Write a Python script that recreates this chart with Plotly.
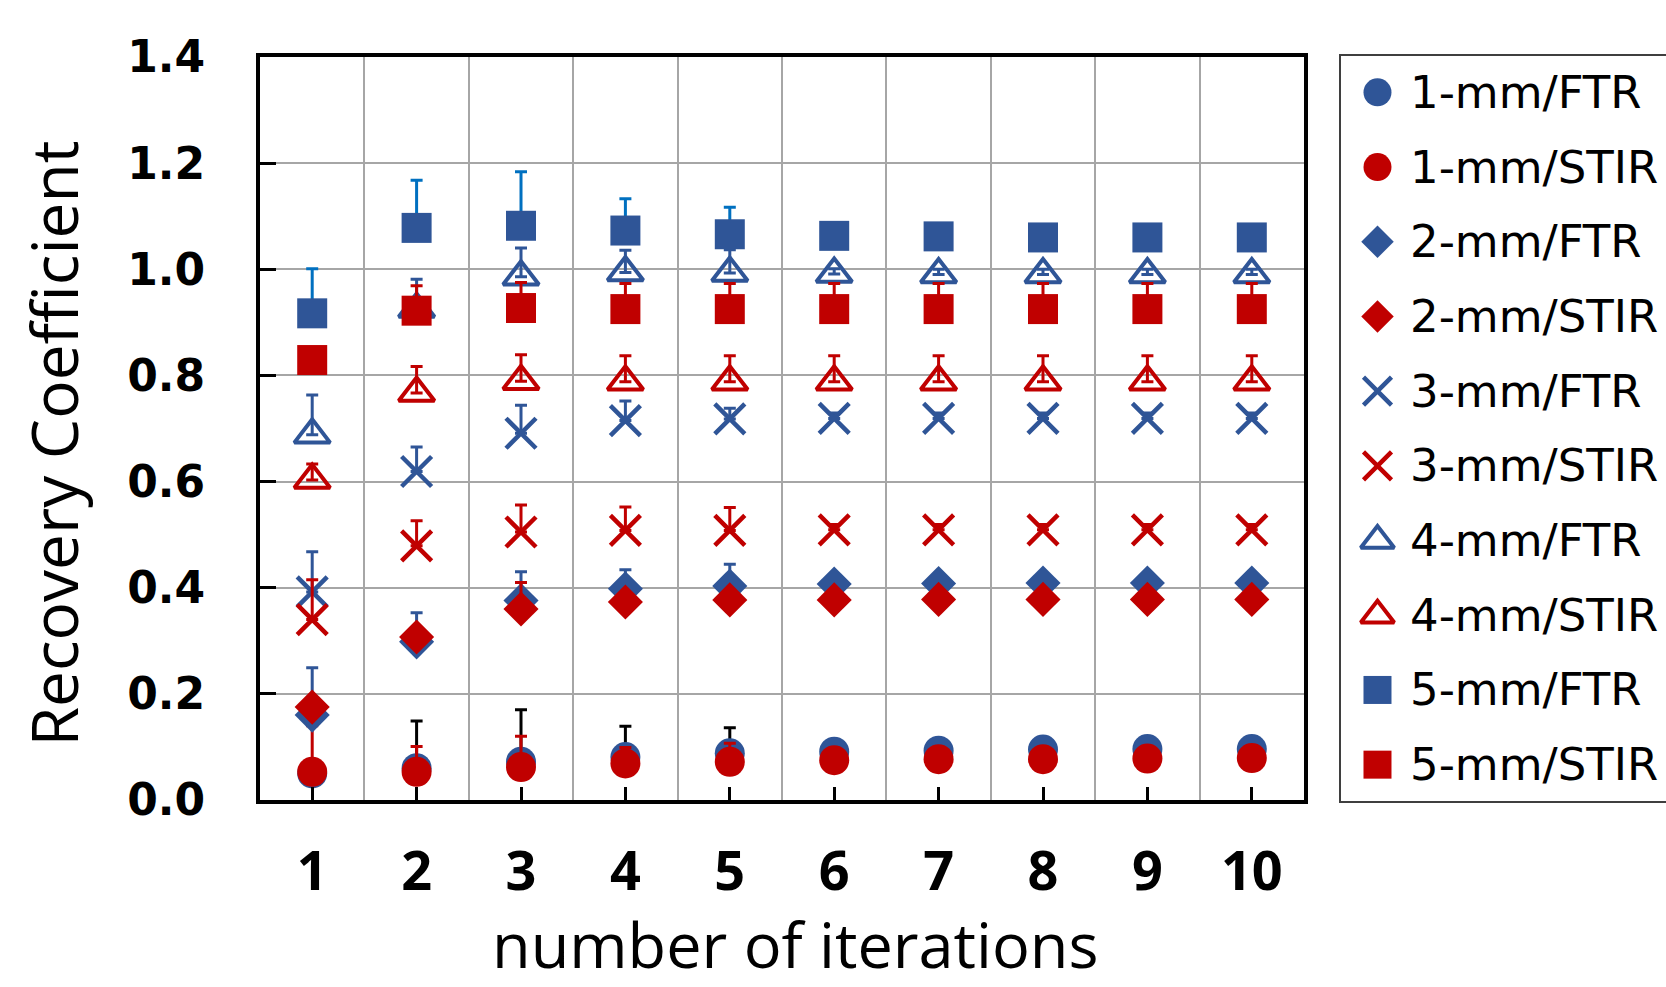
import plotly.graph_objects as go

# ---- data -------------------------------------------------------------
iterations = [1, 2, 3, 4, 5, 6, 7, 8, 9, 10]
tick_labels = ["1", "2", "3", "4", "5", "6", "7", "8", "9", "10"]

series_names = [
    "1-mm/FTR", "1-mm/STIR", "2-mm/FTR", "2-mm/STIR", "3-mm/FTR",
    "3-mm/STIR", "4-mm/FTR", "4-mm/STIR", "5-mm/FTR", "5-mm/STIR",
]

rc_1mm_ftr = [0.050, 0.060, 0.072, 0.081, 0.088, 0.091, 0.093, 0.095, 0.096, 0.096]
err_1mm_ftr = [0.010, 0.089, 0.098, 0.058, 0.048, 0.010, 0.010, 0.010, 0.010, 0.010]

rc_1mm_stir = [0.053, 0.053, 0.062, 0.069, 0.072, 0.075, 0.077, 0.077, 0.078, 0.079]
err_1mm_stir = [0.087, 0.048, 0.058, 0.030, 0.035, 0.010, 0.010, 0.010, 0.010, 0.010]

rc_2mm_ftr = [0.160, 0.298, 0.376, 0.398, 0.403, 0.407, 0.408, 0.409, 0.409, 0.409]
err_2mm_ftr = [0.089, 0.055, 0.054, 0.036, 0.041, 0.010, 0.010, 0.010, 0.010, 0.010]

rc_2mm_stir = [0.175, 0.307, 0.360, 0.373, 0.377, 0.377, 0.378, 0.378, 0.378, 0.378]
err_2mm_stir = [0.010, 0.010, 0.050, 0.010, 0.010, 0.010, 0.010, 0.010, 0.010, 0.010]

rc_3mm_ftr = [0.392, 0.619, 0.691, 0.715, 0.718, 0.719, 0.719, 0.719, 0.719, 0.719]
err_3mm_ftr = [0.076, 0.046, 0.053, 0.037, 0.020, 0.010, 0.010, 0.010, 0.010, 0.010]

rc_3mm_stir = [0.340, 0.479, 0.505, 0.508, 0.508, 0.509, 0.509, 0.509, 0.509, 0.509]
err_3mm_stir = [0.075, 0.047, 0.051, 0.044, 0.043, 0.010, 0.010, 0.010, 0.010, 0.010]

rc_4mm_ftr = [0.688, 0.925, 0.986, 0.994, 0.993, 0.991, 0.990, 0.990, 0.990, 0.990]
err_4mm_ftr = [0.075, 0.056, 0.054, 0.042, 0.044, 0.010, 0.010, 0.010, 0.010, 0.010]

rc_4mm_stir = [0.603, 0.767, 0.789, 0.788, 0.788, 0.788, 0.788, 0.788, 0.788, 0.788]
err_4mm_stir = [0.030, 0.050, 0.050, 0.049, 0.049, 0.049, 0.049, 0.049, 0.049, 0.049]

rc_5mm_ftr = [0.917, 1.078, 1.082, 1.073, 1.066, 1.063, 1.062, 1.060, 1.060, 1.060]
err_5mm_ftr = [0.084, 0.090, 0.102, 0.060, 0.051, 0.010, 0.010, 0.010, 0.010, 0.010]

rc_5mm_stir = [0.829, 0.922, 0.927, 0.925, 0.925, 0.925, 0.925, 0.925, 0.925, 0.925]
err_5mm_stir = [0.010, 0.047, 0.048, 0.048, 0.048, 0.048, 0.048, 0.048, 0.048, 0.048]

values = [rc_1mm_ftr, rc_1mm_stir, rc_2mm_ftr, rc_2mm_stir, rc_3mm_ftr,
          rc_3mm_stir, rc_4mm_ftr, rc_4mm_stir, rc_5mm_ftr, rc_5mm_stir]
errors = [err_1mm_ftr, err_1mm_stir, err_2mm_ftr, err_2mm_stir, err_3mm_ftr,
          err_3mm_stir, err_4mm_ftr, err_4mm_stir, err_5mm_ftr, err_5mm_stir]

# ---- styling ----------------------------------------------------------
BLUE = "#2F5597"
RED = "#C00000"
W, H = 1666, 987

# marker style per phantom size (symbol, size, outline width)
size_styles = {
    "1": ("circle", 30, 0),
    "2": ("diamond", 27, 0),
    "3": ("x-thin-open", 30, 4.5),
    "4": ("triangle-up-open", 31, 4),
    "5": ("square", 30, 0),
}
error_colors = {
    "1-mm/FTR": "#000000", "2-mm/FTR": BLUE, "3-mm/FTR": BLUE,
    "4-mm/FTR": BLUE, "5-mm/FTR": "#0070C0",
}

# plot area and legend box in pixels
PX_L, PX_R, PX_T, PX_B = 260, 1304, 57, 800
LEG_L, LEG_T, LEG_B = 1340, 55, 802


def marker_for(name, shrink=0):
    symbol, size, lw = size_styles[name[0]]
    color = BLUE if name.endswith("FTR") else RED
    return dict(symbol=symbol, size=size - shrink, color=color,
                line=dict(width=lw, color=color))


fig = go.Figure()

for name, vals, errs in zip(series_names, values, errors):
    err_color = error_colors.get(name, RED)
    fig.add_trace(go.Scatter(
        x=iterations, y=vals, mode="markers", name=name,
        marker=marker_for(name),
        error_y=dict(type="data", symmetric=False, array=errs,
                     arrayminus=[0] * len(errs), color=err_color,
                     thickness=3, width=6),
        showlegend=False, xaxis="x", yaxis="y",
    ))

# legend keys drawn on their own small axis pair
LEG_MARK_X = 0.115
LEG_TEXT_X = 0.21
for row, name in enumerate(series_names):
    fig.add_trace(go.Scatter(
        x=[LEG_MARK_X], y=[row], mode="markers",
        marker=marker_for(name, shrink=2),
        showlegend=False, hoverinfo="skip", xaxis="x2", yaxis="y2",
    ))
    fig.add_annotation(
        x=LEG_TEXT_X, y=row, xref="x2", yref="y2", text=name,
        showarrow=False, xanchor="left", yanchor="middle",
        font=dict(family="DejaVu Sans", size=45, color="#000000"),
    )

# axis titles
fig.add_annotation(
    x=795.5 / W, y=0, xref="paper", yref="paper",
    text="number of iterations", showarrow=False, borderpad=0,
    xanchor="center", yanchor="bottom",
    font=dict(family="Open Sans", size=63, color="#000000"),
)
fig.add_annotation(
    x=53 / W, y=1 - 443.5 / H, xref="paper", yref="paper",
    text="Recovery Coefficient", showarrow=False, textangle=-90,
    xanchor="center", yanchor="middle",
    font=dict(family="Open Sans", size=64, color="#000000"),
)

# legend frame
fig.add_shape(
    type="rect", xref="paper", yref="paper",
    x0=LEG_L / W, x1=1.01, y0=1 - LEG_B / H, y1=1 - LEG_T / H,
    line=dict(color="#3F3F3F", width=2), fillcolor="rgba(0,0,0,0)",
)

GRID = "#A6A6A6"
fig.update_layout(
    width=W, height=H, autosize=False,
    margin=dict(l=0, r=0, t=0, b=0, pad=0, autoexpand=False),
    showlegend=False,
    paper_bgcolor="white", plot_bgcolor="white",
    xaxis=dict(
        domain=[PX_L / W, PX_R / W], range=[0.5, 10.5],
        tickmode="array", tickvals=iterations, ticktext=tick_labels,
        ticks="inside", ticklen=13, tickwidth=2.5, tickcolor="#000000",
        showgrid=False, zeroline=False, automargin=False,
        minor=dict(tick0=0.5, dtick=1, showgrid=True, gridcolor=GRID,
                   gridwidth=1.5, ticks=""),
        showline=True, mirror=True, linecolor="#000000", linewidth=4,
        tickfont=dict(family="Open Sans", size=54, color="#000000",
                      weight="bold"),
        ticklabelstandoff=21,
        anchor="y",
    ),
    yaxis=dict(
        domain=[1 - PX_B / H, 1 - PX_T / H], range=[0, 1.4],
        tick0=0, dtick=0.2, tickformat=".1f",
        ticks="inside", ticklen=16, tickwidth=2.5, tickcolor="#000000",
        showgrid=True, gridcolor=GRID, gridwidth=1.5, zeroline=False,
        automargin=False,
        showline=True, mirror=True, linecolor="#000000", linewidth=4,
        tickfont=dict(family="DejaVu Sans", size=44, color="#000000",
                      weight="bold"),
        ticklabelstandoff=42,
        anchor="x",
    ),
    xaxis2=dict(
        domain=[LEG_L / W, 1], range=[0, 1], visible=False,
        fixedrange=True, anchor="y2", automargin=False,
    ),
    yaxis2=dict(
        domain=[1 - LEG_B / H, 1 - LEG_T / H], range=[9.5, -0.5],
        visible=False, fixedrange=True, anchor="x2", automargin=False,
    ),
)

fig.write_html("out.html")
